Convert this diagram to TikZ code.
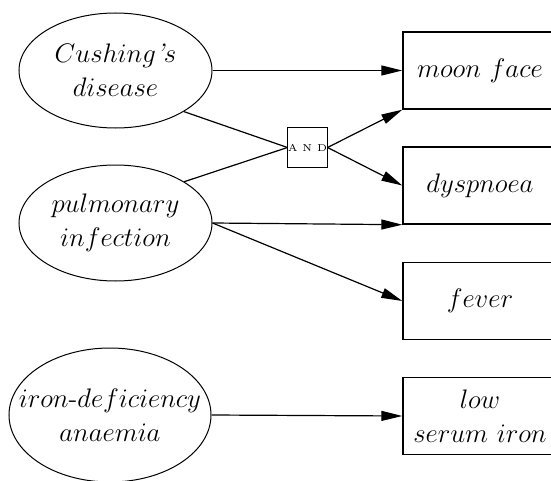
\documentclass[tikz,border=0pt]{standalone}
\usepackage{fix-cm}
\usetikzlibrary{shapes.geometric,arrows.meta}
\begin{document}
\begin{tikzpicture}[x=0.5pt,y=-0.5pt,
  cause/.style={ellipse, draw, line width=0.5pt, inner sep=0pt},
  label/.style={align=center, inner sep=0pt, font=\fontsize{13.4}{17}\selectfont},
  finding/.style={rectangle, draw, line width=0.7pt, minimum width=77pt,
    minimum height=38.5pt, align=center, inner sep=0pt,
    font=\fontsize{13.4}{17}\selectfont},
  gate/.style={rectangle, draw, line width=0.5pt, minimum size=19.5pt,
    inner sep=0pt, font=\fontsize{5}{6}\selectfont},
  link/.style={line width=0.6pt, -{Triangle[length=10.5pt,width=5pt]}},
  plain/.style={line width=0.6pt}]
  \clip (0,0) rectangle (551,481);

  % causes
  \node[cause, minimum width=96.5pt, minimum height=57.5pt] (cush) at (115.5,70.5) {};
  \node[label] (cushtext) at (cush) {$Cushing\mbox{\itshape '}s$\\$disease$};
  \node[cause, minimum width=96.5pt, minimum height=58pt] (pulm) at (115.5,223) {};
  \node[label] (pulmtext) at (pulm) {$pulmonary$\\$infection$};
  \node[cause, minimum width=101pt, minimum height=67pt] (iron) at (110,415) {};
  \node[label] (irontext) at (iron) {$iron\mbox{-}deficiency$\\$anaemia$};

  % findings
  \node[finding] (moon) at (480,70.5) {$moon\ face$};
  \node[finding] (dysp) at (480,185.5) {$dyspnoea$};
  \node[finding] (fever) at (480,301) {$fever$};
  \node[finding] (low) at (480,416) {$low$\\$serum\ iron$};

  % conjunction
  \node[gate] (and) at (307.5,147.5) {A N D};

  % connectors
  \draw[link] (cush.east) -- (moon.west);
  \draw[plain] (cush.-31) -- (and.west);
  \draw[plain] (pulm.31.5) -- (and.west);
  \draw[link] (and.east) -- (moon.south west);
  \draw[link] (and.east) -- (dysp.west);
  \draw[link] (pulm.east) -- (dysp.south west);
  \draw[link] (pulm.east) -- (fever.west);
  \draw[link] (iron.east) -- (low.west);
\end{tikzpicture}
\end{document}
